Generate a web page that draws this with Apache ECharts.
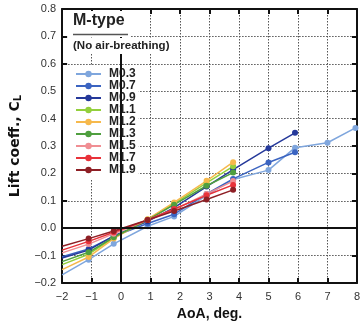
<!DOCTYPE html>
<html>
<head>
<meta charset="utf-8">
<script src="https://cdn.jsdelivr.net/npm/echarts@6/dist/echarts.min.js"></script>
<style>html,body{margin:0;padding:0;background:#fff;}#c{width:363px;height:326px;}</style>
</head>
<body>
<div id="c"></div>
<script>
// ---- data ----
const seriesNames = ['M0.3','M0.7','M0.9','M1.1','M1.2','M1.3','M1.5','M1.7','M1.9'];
const aoaM03 = [-2.0, -1.1, -0.25, 0.9, 1.8, 2.9, 3.8, 5.0, 5.9, 7.0, 7.95];
const aoaM07 = [-2.0, -1.1, -0.25, 0.9, 1.8, 2.9, 3.8, 5.0, 5.9];
const aoaM09 = [-2.0, -1.1, -0.25, 0.9, 1.8, 2.9, 3.8, 5.0, 5.9];
const aoaShort = [-2.0, -1.1, -0.25, 0.9, 1.8, 2.9, 3.8];
const clM03 = [-0.17, -0.115, -0.057, 0.007, 0.043, 0.12, 0.178, 0.212, 0.294, 0.312, 0.366];
const clM07 = [-0.104, -0.076, -0.030, 0.017, 0.051, 0.125, 0.180, 0.240, 0.277];
const clM09 = [-0.109, -0.080, -0.028, 0.025, 0.075, 0.152, 0.214, 0.292, 0.348];
const clM11 = [-0.133, -0.095, -0.035, 0.032, 0.090, 0.165, 0.226];
const clM12 = [-0.151, -0.105, -0.038, 0.033, 0.094, 0.173, 0.241];
const clM13 = [-0.122, -0.088, -0.033, 0.030, 0.086, 0.155, 0.203];
const clM15 = [-0.090, -0.058, -0.020, 0.030, 0.068, 0.125, 0.172];
const clM17 = [-0.080, -0.048, -0.015, 0.030, 0.070, 0.120, 0.158];
const clM19 = [-0.066, -0.038, -0.010, 0.030, 0.063, 0.105, 0.140];
const xTicks = [-2, -1, 0, 1, 2, 3, 4, 5, 6, 7, 8];
const yTicks = [-0.2, -0.1, 0.0, 0.1, 0.2, 0.3, 0.4, 0.5, 0.6, 0.7, 0.8];

const seriesX = [aoaM03, aoaM07, aoaM09, aoaShort, aoaShort, aoaShort, aoaShort, aoaShort, aoaShort];
const seriesY = [clM03, clM07, clM09, clM11, clM12, clM13, clM15, clM17, clM19];
const colors = ['#7fa6dd','#3b64c1','#25399a','#93cf3c','#f6b94c','#4f9f3f','#f08e93','#e8323a','#8e1f25'];

const FONT = 'Liberation Sans';
const minus = v => String(v).replace('-', '\u2212');

const chart = echarts.init(document.getElementById('c'), null, {renderer: 'canvas'});

const axisCommon = {
  axisLine: {show: true, onZero: false, lineStyle: {color: '#111', width: 2}},
  axisTick: {show: true, inside: true, length: 5, lineStyle: {color: '#111', width: 2}},
  splitLine: {show: false}
};

const series = [{
  type: 'line', name: '_zero', data: [], silent: true,
  markLine: {
    silent: true, symbol: 'none', animation: false,
    label: {show: false},
    lineStyle: {color: '#111', width: 2, type: 'solid'},
    data: [{xAxis: 0}, {yAxis: 0}]
  }
}];
seriesNames.forEach((n, i) => {
  series.push({
    type: 'line', name: n,
    data: seriesX[i].map((x, k) => k === 0 ? {value: [x, seriesY[i][k]], symbol: 'none'} : [x, seriesY[i][k]]),
    symbol: 'circle', symbolSize: 6,
    lineStyle: {width: 1.5, color: colors[i]},
    itemStyle: {color: colors[i]},
    animation: false, clip: true
  });
});

chart.setOption({
  animation: false,
  textStyle: {fontFamily: FONT},
  grid: {left: 62, right: 0, top: 9, bottom: 42},
  title: [
    {text: 'M-type', left: 68, top: 11, padding: [2, 6, 8, 5], backgroundColor: '#fff',
     textStyle: {fontSize: 16, fontWeight: 'bold', color: '#222', fontFamily: FONT}},
    {text: '(No air-breathing)', left: 68, top: 38, padding: [2, 3, 2, 5], backgroundColor: '#fff',
     textStyle: {fontSize: 11.5, fontWeight: 'bold', color: '#222', fontFamily: FONT}}
  ],
  graphic: [{type: 'line', shape: {x1: 73, y1: 34.5, x2: 128, y2: 34.5}, style: {stroke: '#555', lineWidth: 1.5}, z: 100}],
  legend: {
    data: seriesNames, orient: 'vertical', left: 63, top: 65,
    padding: [3, 3, 3, 12], backgroundColor: '#fff',
    itemWidth: 25, itemHeight: 8, itemGap: 0,
    textStyle: {fontSize: 12, fontWeight: 'bold', color: '#222', lineHeight: 11.5, padding: [0, 0, 0, 3], fontFamily: FONT}
  },
  xAxis: [
    Object.assign({}, axisCommon, {
      type: 'value', min: -2, max: 8, interval: 1, position: 'bottom',
      splitLine: {show: true, lineStyle: {color: '#555', type: [1.5, 1.5], width: 1}},
      axisLabel: {color: '#333', fontSize: 11, margin: 8, formatter: v => minus(v), fontFamily: FONT},
      name: 'AoA, deg.', nameLocation: 'middle', nameGap: 24,
      nameTextStyle: {fontSize: 14, fontWeight: 'bold', color: '#111', fontFamily: FONT}
    }),
    Object.assign({}, axisCommon, {
      type: 'value', min: -2, max: 8, interval: 1, position: 'top', axisLabel: {show: false}
    })
  ],
  yAxis: [
    Object.assign({}, axisCommon, {
      type: 'value', min: -0.2, max: 0.8, interval: 0.1, position: 'left',
      splitLine: {show: true, lineStyle: {color: '#555', type: [1.5, 1.5], width: 1}},
      axisLabel: {color: '#333', fontSize: 11, margin: 6, formatter: v => minus(v.toFixed(1)), fontFamily: FONT},
      name: 'Lift coeff., C{sub|L}', nameLocation: 'middle', nameGap: 33, nameRotate: 90,
      nameTextStyle: {fontSize: 14, fontWeight: 'bold', color: '#111', fontFamily: 'DejaVu Sans',
        rich: {sub: {fontSize: 10, fontWeight: 'bold', color: '#111', verticalAlign: 'bottom', padding: [7, 0, 0, 0], fontFamily: 'DejaVu Sans'}}}
    }),
    Object.assign({}, axisCommon, {
      type: 'value', min: -0.2, max: 0.8, interval: 0.1, position: 'right', axisLabel: {show: false}
    })
  ],
  series: series
});
</script>
</body>
</html>
